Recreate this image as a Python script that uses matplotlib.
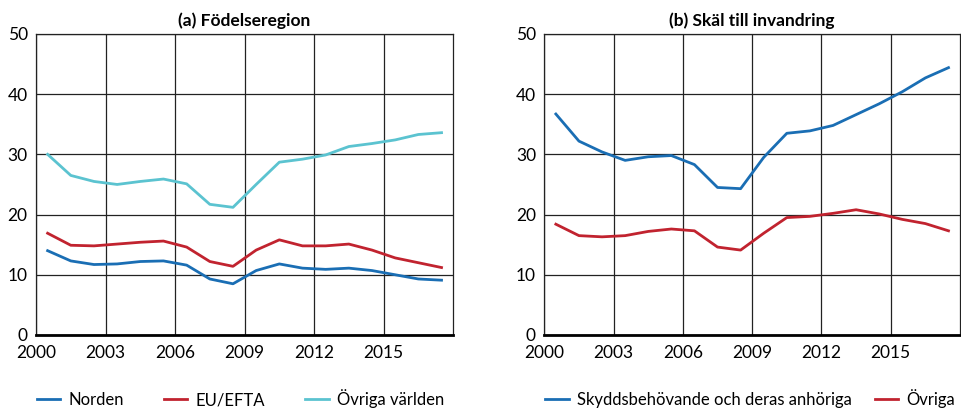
import matplotlib
matplotlib.use('Agg')
import matplotlib.pyplot as plt
import numpy as np

# years plotted at mid-year
years = np.arange(2000, 2018) + 0.5

norden = [14.0, 12.3, 11.7, 11.8, 12.2, 12.3, 11.6, 9.3, 8.5, 10.7,
          11.8, 11.1, 10.9, 11.1, 10.7, 10.0, 9.3, 9.1]
eu_efta = [16.9, 14.9, 14.8, 15.1, 15.4, 15.6, 14.6, 12.2, 11.4, 14.1,
           15.8, 14.8, 14.8, 15.1, 14.1, 12.8, 12.0, 11.2]
ovriga_varlden = [30.0, 26.5, 25.5, 25.0, 25.5, 25.9, 25.1, 21.7, 21.2, 25.0,
                  28.7, 29.2, 29.9, 31.3, 31.8, 32.4, 33.3, 33.6]

skydd = [36.7, 32.2, 30.4, 29.0, 29.6, 29.8, 28.3, 24.5, 24.3, 29.5,
         33.5, 33.9, 34.8, 36.6, 38.4, 40.4, 42.7, 44.4]
ovriga = [18.4, 16.5, 16.3, 16.5, 17.2, 17.6, 17.3, 14.6, 14.1, 16.9,
          19.5, 19.7, 20.2, 20.8, 20.1, 19.2, 18.5, 17.3]

xticks = [2000, 2003, 2006, 2009, 2012, 2015]
yticks = [0, 10, 20, 30, 40, 50]

blue = '#1a6eb4'
red = '#c1232f'
cyan = '#5bc3d0'

plt.rcParams['font.family'] = ['Lato', 'DejaVu Sans']

fig = plt.figure(figsize=(9.61, 4.09), dpi=100)
ax1 = fig.add_axes([0.0375, 0.181, 0.434, 0.736])
ax2 = fig.add_axes([0.5664, 0.181, 0.4326, 0.736])


def style(ax, title):
    ax.set_xlim(2000, 2018)
    ax.set_ylim(0, 50)
    ax.set_xticks(xticks)
    ax.set_yticks(yticks)
    ax.tick_params(length=0, labelsize=12.5)
    ax.tick_params(axis='x', pad=7)
    ax.tick_params(axis='y', pad=6)
    ax.grid(True, color='#222222', linewidth=0.9)
    ax.set_axisbelow(True)
    for s in ['top', 'left', 'right']:
        ax.spines[s].set_linewidth(0.9)
        ax.spines[s].set_color('#222222')
    ax.spines['bottom'].set_linewidth(2)
    ax.spines['bottom'].set_color('black')
    ax.set_title(title, fontsize=12.5, fontweight='bold', pad=6)


ax1.plot(years, norden, color=blue, lw=2, label='Norden')
ax1.plot(years, eu_efta, color=red, lw=2, label='EU/EFTA')
ax1.plot(years, ovriga_varlden, color=cyan, lw=2, label='Övriga världen')
style(ax1, '(a) Födelseregion')
ax1.legend(loc='upper left', bbox_to_anchor=(-0.034, -0.13), ncol=3, frameon=False,
           fontsize=12, handlelength=1.4, columnspacing=2.4, handletextpad=0.5)

ax2.plot(years, skydd, color=blue, lw=2, label='Skyddsbehövande och deras anhöriga')
ax2.plot(years, ovriga, color=red, lw=2, label='Övriga')
style(ax2, '(b) Skäl till invandring')
ax2.legend(loc='upper left', bbox_to_anchor=(-0.034, -0.13), ncol=2, frameon=False,
           fontsize=12, handlelength=1.4, columnspacing=1.4, handletextpad=0.5)

fig.savefig('out.png', dpi=100)
